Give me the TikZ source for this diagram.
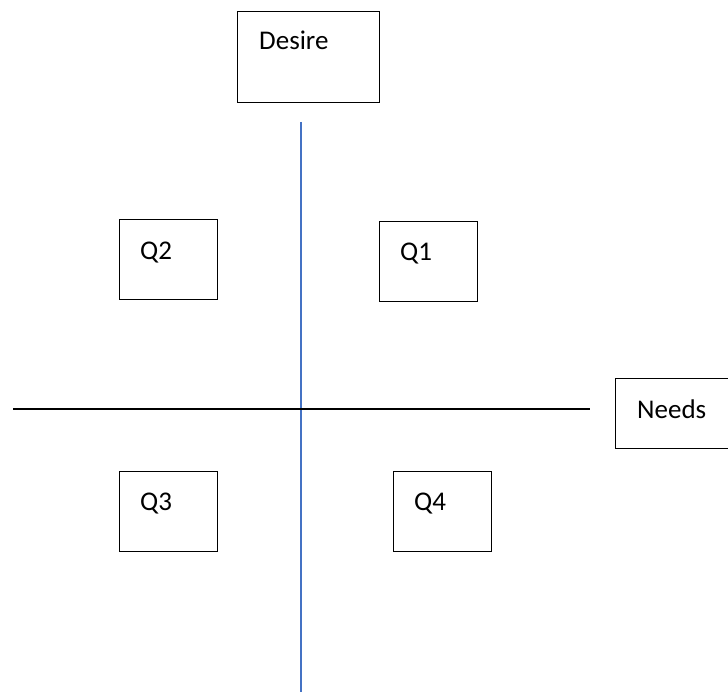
\documentclass[tikz,border=0pt]{standalone}
\usepackage{fontspec}
\setmainfont{Carlito}
\definecolor{monbleu}{RGB}{68,114,196}
\tikzset{
  boite/.style={draw=black,line width=1.2pt,anchor=north west,inner sep=0pt},
  etiquette/.style={anchor=base west,inner sep=0pt,font=\fontsize{27}{32}\selectfont},
}
\begin{document}
\begin{tikzpicture}[x=1pt,y=-1pt]
	\useasboundingbox (0,0) rectangle (728,692);
	\clip (0,0) rectangle (728,692);
	% Axes %
	\coordinate (haut) at (301,122);
	\coordinate (bas) at (301,692);
	\coordinate (gauche) at (13,409);
	\coordinate (droite) at (590,409);
	\draw[color=monbleu,line width=1.5pt] (haut) -- (bas);
	\draw[line width=1.2pt] (gauche) -- (droite);
	% Desire %
	\node[boite,minimum width=142,minimum height=91] (desire) at (237,11) {};
	\node[etiquette] (tdesire) at ([shift={(22,39)}]desire.north west) {Desire};
	% Needs %
	\node[boite,minimum width=130,minimum height=70] (needs) at (615,378) {};
	\node[etiquette] (tneeds) at ([shift={(22,40)}]needs.north west) {Needs};
	% Quadrants %
	\node[boite,minimum width=98,minimum height=80] (q2) at (119,219) {};
	\node[etiquette] (tq2) at ([shift={(21,41)}]q2.north west) {Q2};
	\node[boite,minimum width=98,minimum height=80] (q1) at (379,221) {};
	\node[etiquette] (tq1) at ([shift={(21,40)}]q1.north west) {Q1};
	\node[boite,minimum width=98,minimum height=80] (q3) at (119,471) {};
	\node[etiquette] (tq3) at ([shift={(21,39)}]q3.north west) {Q3};
	\node[boite,minimum width=98,minimum height=80] (q4) at (393,471) {};
	\node[etiquette] (tq4) at ([shift={(21,39)}]q4.north west) {Q4};
\end{tikzpicture}
\end{document}
